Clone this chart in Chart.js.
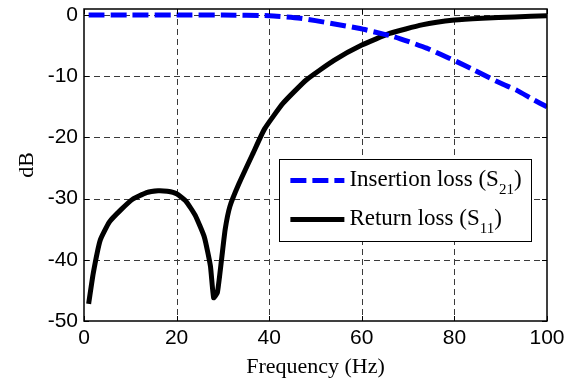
<!DOCTYPE html>
<html>
<head>
<meta charset="utf-8">
<script src="https://cdn.jsdelivr.net/npm/chart.js@4.4.1/dist/chart.umd.min.js"></script>
<style>
html,body{margin:0;padding:0;background:#fff;}
#wrap{width:572px;height:380px;position:relative;}
</style>
</head>
<body>
<div id="wrap"><canvas id="c" width="572" height="380"></canvas></div>
<script>
// ---- data ----
const freqS21 = [1, 10, 20, 30, 40, 46.7, 50, 53.8, 59.6, 63, 66.8, 70, 74, 77, 80.5, 84, 87.7, 90.5, 93.5, 97, 100];
const s21     = [0, 0, 0, 0, -0.1, -0.5, -0.9, -1.4, -2.2, -2.8, -3.5, -4.3, -5.4, -6.4, -7.6, -8.9, -10.3, -11.3, -12.3, -13.8, -15.0];

const freqS11 = [1, 2, 3.5, 5.5, 8, 10.5, 13.5, 16, 18, 20, 22, 24, 26, 27.3, 28, 28.8, 29.7, 30.5, 31.5, 33.5, 36.5, 39, 43, 48, 54, 60, 66, 73, 80, 86, 93, 100];
const s11     = [-47.2, -42.2, -36.8, -33.8, -31.8, -30.1, -29.0, -28.7, -28.8, -29.2, -30.4, -32.7, -36.3, -41.0, -46.2, -45.4, -40.0, -35.0, -31.3, -27.5, -22.6, -18.6, -14.4, -10.6, -7.4, -4.9, -3.0, -1.6, -0.8, -0.5, -0.3, -0.1];

const xTicks = [0, 20, 40, 60, 80, 100];
const yTicks = [-50, -40, -30, -20, -10, 0];

const labelS21 = ['Insertion loss (S', '21', ')'];
const labelS11 = ['Return loss (S', '11', ')'];

const toPts = (xs, ys) => xs.map((x, i) => ({x: x, y: ys[i]}));

const SERIF = '"Liberation Serif", "Times New Roman", serif';
const SANS = '"Liberation Sans", Arial, sans-serif';

const gridFrame = {
  id: 'gridFrame',
  beforeDatasetsDraw(chart) {
    const {ctx, chartArea: a, scales: {x, y}} = chart;
    ctx.save();
    ctx.strokeStyle = '#3a3a3a';
    ctx.lineWidth = 1;
    ctx.setLineDash([6, 4]);
    xTicks.forEach(v => {
      if (v <= x.min || v >= x.max) return;
      const px = Math.round(x.getPixelForValue(v)) + 0.5;
      ctx.beginPath(); ctx.moveTo(px, a.top); ctx.lineTo(px, a.bottom); ctx.stroke();
    });
    yTicks.forEach(v => {
      if (v <= y.min || v >= y.max) return;
      const py = Math.round(y.getPixelForValue(v)) + 0.5;
      ctx.beginPath(); ctx.moveTo(a.left, py); ctx.lineTo(a.right, py); ctx.stroke();
    });
    ctx.restore();
  },
  afterDatasetsDraw(chart) {
    const {ctx, chartArea: a, scales: {x, y}} = chart;
    ctx.save();
    // inward ticks
    ctx.strokeStyle = '#000';
    ctx.lineWidth = 1;
    ctx.setLineDash([]);
    xTicks.forEach(v => {
      const px = Math.round(x.getPixelForValue(v)) + 0.5;
      ctx.beginPath(); ctx.moveTo(px, a.bottom); ctx.lineTo(px, a.bottom - 5); ctx.stroke();
      ctx.beginPath(); ctx.moveTo(px, a.top); ctx.lineTo(px, a.top + 5); ctx.stroke();
    });
    yTicks.forEach(v => {
      const py = Math.round(y.getPixelForValue(v)) + 0.5;
      ctx.beginPath(); ctx.moveTo(a.left, py); ctx.lineTo(a.left + 5, py); ctx.stroke();
      ctx.beginPath(); ctx.moveTo(a.right, py); ctx.lineTo(a.right - 5, py); ctx.stroke();
    });
    // frame
    ctx.lineWidth = 1.5;
    ctx.strokeRect(a.left, a.top, a.right - a.left, a.bottom - a.top);

    // legend
    const lx = x.getPixelForValue(42.2), rx = x.getPixelForValue(96.7);
    const ty = y.getPixelForValue(-23.6), by = y.getPixelForValue(-37.0);
    ctx.fillStyle = '#fff';
    ctx.fillRect(lx, ty, rx - lx, by - ty);
    ctx.strokeStyle = '#000';
    ctx.lineWidth = 1;
    ctx.strokeRect(Math.round(lx) + 0.5, Math.round(ty) + 0.5, Math.round(rx - lx), Math.round(by - ty));
    const rows = [
      {label: labelS21, color: '#0000ff', dash: [16, 6], ly: ty + 21, base: ty + 27},
      {label: labelS11, color: '#000000', dash: [], ly: ty + 60, base: ty + 66}
    ];
    rows.forEach(r => {
      ctx.strokeStyle = r.color;
      ctx.lineWidth = 5;
      ctx.setLineDash(r.dash);
      ctx.beginPath(); ctx.moveTo(lx + 11, r.ly); ctx.lineTo(lx + 65, r.ly); ctx.stroke();
      ctx.setLineDash([]);
      ctx.fillStyle = '#000';
      ctx.textBaseline = 'alphabetic';
      ctx.textAlign = 'left';
      let tx = lx + 70;
      ctx.font = '23px ' + SERIF;
      ctx.fillText(r.label[0], tx, r.base);
      tx += ctx.measureText(r.label[0]).width;
      ctx.font = '15px ' + SERIF;
      ctx.fillText(r.label[1], tx, r.base + 8);
      tx += ctx.measureText(r.label[1]).width;
      ctx.font = '23px ' + SERIF;
      ctx.fillText(r.label[2], tx, r.base);
    });
    ctx.restore();
  }
};

new Chart(document.getElementById('c'), {
  type: 'line',
  data: {
    datasets: [
      {
        label: labelS21.join(''),
        data: toPts(freqS21, s21),
        borderColor: '#0000ff',
        borderWidth: 5,
        borderDash: [16, 6],
        pointRadius: 0,
        tension: 0.2,
        fill: false
      },
      {
        label: labelS11.join(''),
        data: toPts(freqS11, s11),
        borderColor: '#000000',
        borderWidth: 5,
        pointRadius: 0,
        tension: 0.15,
        fill: false
      }
    ]
  },
  options: {
    responsive: false,
    animation: false,
    devicePixelRatio: 1,
    layout: {padding: {left: 0, right: 25, top: 9, bottom: 0}},
    plugins: {legend: {display: false}, tooltip: {enabled: false}},
    scales: {
      x: {
        type: 'linear',
        min: 0, max: 100,
        afterFit(s) { s.height = 59; s.paddingLeft = 0; s.paddingRight = 0; },
        afterBuildTicks(s) { s.ticks = xTicks.map(v => ({value: v})); },
        grid: {display: false, drawTicks: false},
        border: {display: false},
        ticks: {color: '#000', padding: 5, maxRotation: 0, autoSkip: false,
                font: {family: SANS, size: 21}},
        title: {display: true, text: 'Frequency (Hz)', color: '#000', padding: {top: 0, bottom: 0},
                font: {family: SERIF, size: 22}}
      },
      y: {
        type: 'linear',
        min: -50, max: 1,
        afterFit(s) { s.width = 84; s.paddingTop = 0; s.paddingBottom = 0; },
        afterBuildTicks(s) { s.ticks = yTicks.map(v => ({value: v})); },
        grid: {display: false, drawTicks: false},
        border: {display: false},
        ticks: {color: '#000', padding: 6, autoSkip: false,
                font: {family: SANS, size: 21}},
        title: {display: true, text: 'dB', color: '#000', padding: {top: 14, bottom: 0},
                font: {family: SERIF, size: 22}}
      }
    }
  },
  plugins: [gridFrame]
});
</script>
</body>
</html>
